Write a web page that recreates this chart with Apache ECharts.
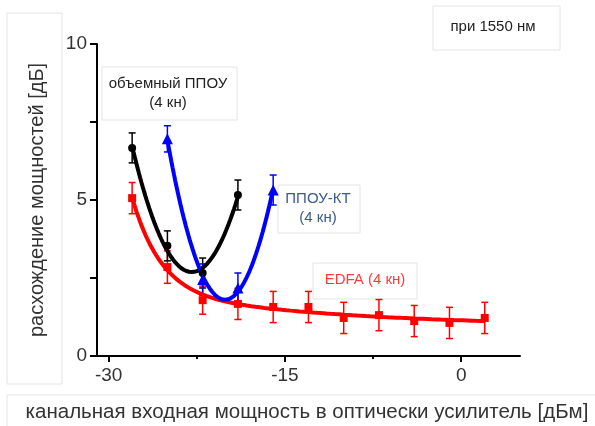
<!DOCTYPE html>
<html>
<head>
<meta charset="utf-8">
<script src="https://cdn.jsdelivr.net/npm/echarts@6/dist/echarts.min.js"></script>
<style>
html,body{margin:0;padding:0;background:#fff;}
#chart{width:595px;height:426px;}
</style>
</head>
<body>
<div id="chart"></div>
<script>
// данные при 1550 нм, входная мощность [дБм] -> расхождение [дБ]
var edfaX = [-28, -25, -22, -19, -16, -13, -10, -7, -4, -1, 2];
var edfaY = [5.06, 2.85, 1.79, 1.67, 1.57, 1.57, 1.22, 1.31, 1.12, 1.06, 1.22];
var edfaErr = [0.5, 0.52, 0.45, 0.5, 0.5, 0.5, 0.5, 0.5, 0.5, 0.5, 0.5];

var bulkX = [-28, -25, -22, -19];
var bulkY = [6.67, 3.53, 2.66, 5.16];
var bulkErr = [0.48, 0.48, 0.48, 0.48];

var ktX = [-25, -22, -19, -16];
var ktY = [6.96, 2.45, 2.18, 5.32];
var ktErr = [0.42, 0.5, 0.48, 0.48];

var xTickLabels = [-30, -15, 0];
var xMinorTicks = [-22.5, -7.5];
var yTickLabels = [0, 5, 10];
var yTicks = [0, 2.5, 5, 7.5, 10];

var FONT = 'Liberation Sans, Arial, sans-serif';

// метод наименьших квадратов для произвольного базиса
function lsqFit(xs, ys, basis) {
    var n = basis.length, A = [], b = [];
    for (var i = 0; i < n; i++) { A.push(new Array(n).fill(0)); b.push(0); }
    for (var k = 0; k < xs.length; k++) {
        var f = basis.map(function (g) { return g(xs[k]); });
        for (var i = 0; i < n; i++) {
            b[i] += f[i] * ys[k];
            for (var j = 0; j < n; j++) A[i][j] += f[i] * f[j];
        }
    }
    for (var c = 0; c < n; c++) {
        var p = c;
        for (var r = c + 1; r < n; r++) if (Math.abs(A[r][c]) > Math.abs(A[p][c])) p = r;
        var t = A[c]; A[c] = A[p]; A[p] = t; t = b[c]; b[c] = b[p]; b[p] = t;
        for (var r = c + 1; r < n; r++) {
            var m = A[r][c] / A[c][c];
            for (var j = c; j < n; j++) A[r][j] -= m * A[c][j];
            b[r] -= m * b[c];
        }
    }
    var w = new Array(n).fill(0);
    for (var i = n - 1; i >= 0; i--) {
        var s = b[i];
        for (var j = i + 1; j < n; j++) s -= A[i][j] * w[j];
        w[i] = s / A[i][i];
    }
    return function (x) {
        var y = 0;
        for (var i = 0; i < n; i++) y += w[i] * basis[i](x);
        return y;
    };
}

function curve(xs, fn) {
    var out = [], a = xs[0], z = xs[xs.length - 1];
    for (var i = 0; i <= 80; i++) {
        var x = a + (z - a) * i / 80;
        out.push([x, fn(x)]);
    }
    return out;
}

var quad = [function () { return 1; }, function (x) { return x; }, function (x) { return x * x; }];
var edfaBasis = [function () { return 1; }, function (x) { return Math.exp(-(x + 28) / 2.5); },
    function (x) { return x; }, function (x) { return x * x; }];

var edfaFit = curve(edfaX, lsqFit(edfaX, edfaY, edfaBasis));
var bulkFit = curve(bulkX, lsqFit(bulkX, bulkY, quad));
var ktFit = curve(ktX, lsqFit(ktX, ktY, quad));

function pts(xs, ys) { return xs.map(function (x, i) { return [x, ys[i]]; }); }
function errs(xs, ys, es) { return xs.map(function (x, i) { return [x, ys[i] - es[i], ys[i] + es[i]]; }); }

function errorBars(color) {
    return function (params, api) {
        var x = api.value(0);
        var top = api.coord([x, api.value(2)]);
        var bot = api.coord([x, api.value(1)]);
        var w = 3.5;
        var st = { stroke: color, lineWidth: 1.5 };
        return {
            type: 'group',
            children: [
                { type: 'line', shape: { x1: top[0], y1: top[1], x2: bot[0], y2: bot[1] }, style: st },
                { type: 'line', shape: { x1: top[0] - w, y1: top[1], x2: top[0] + w, y2: top[1] }, style: st },
                { type: 'line', shape: { x1: bot[0] - w, y1: bot[1], x2: bot[0] + w, y2: bot[1] }, style: st }
            ]
        };
    };
}

var RED = '#ff0000', BLACK = '#000000', BLUE = '#0000ff';

var myChart = echarts.init(document.getElementById('chart'));

var option = {
    animation: false,
    backgroundColor: '#fff',
    grid: { left: 91, right: 75, top: 44, bottom: 70 },
    xAxis: [{
        type: 'value', min: -31.5, max: 5,
        axisLine: { onZero: false, lineStyle: { color: '#000', width: 2 } },
        axisTick: { customValues: [-30, -15, 0], length: 6, lineStyle: { color: '#000', width: 2 } },
        axisLabel: { customValues: xTickLabels, fontSize: 19, color: '#333', fontFamily: FONT, margin: 10 },
        splitLine: { show: false }
    }, {
        type: 'value', min: -31.5, max: 5, position: 'bottom',
        axisLine: { show: false, onZero: false },
        axisTick: { customValues: xMinorTicks, length: 3, lineStyle: { color: '#000', width: 2 } },
        axisLabel: { show: false },
        splitLine: { show: false }
    }],
    yAxis: {
        type: 'value', min: 0, max: 10, offset: -6,
        axisLine: { show: true, onZero: false, lineStyle: { color: '#000', width: 2 } },
        axisTick: { show: true, customValues: yTicks, length: 7, lineStyle: { color: '#000', width: 2 } },
        axisLabel: { customValues: yTickLabels, fontSize: 19, color: '#333', fontFamily: FONT, margin: 10 },
        splitLine: { show: false }
    },
    series: [
        { type: 'custom', renderItem: errorBars(RED), data: errs(edfaX, edfaY, edfaErr), encode: { x: 0, y: [1, 2] }, z: 2 },
        { type: 'custom', renderItem: errorBars(BLACK), data: errs(bulkX, bulkY, bulkErr), encode: { x: 0, y: [1, 2] }, z: 2 },
        { type: 'custom', renderItem: errorBars(BLUE), data: errs(ktX, ktY, ktErr), encode: { x: 0, y: [1, 2] }, z: 2 },
        { type: 'line', data: edfaFit, showSymbol: false, lineStyle: { color: RED, width: 4 }, z: 3 },
        { type: 'line', data: bulkFit, showSymbol: false, lineStyle: { color: BLACK, width: 4 }, z: 3 },
        { type: 'line', data: ktFit, showSymbol: false, lineStyle: { color: BLUE, width: 4 }, z: 3 },
        { type: 'scatter', data: pts(edfaX, edfaY), symbol: 'rect', symbolSize: 8, itemStyle: { color: RED, opacity: 1 }, z: 4 },
        { type: 'scatter', data: pts(bulkX, bulkY), symbol: 'circle', symbolSize: 8, itemStyle: { color: BLACK, opacity: 1 }, z: 4 },
        { type: 'scatter', data: pts(ktX, ktY), symbol: 'triangle', symbolSize: 11, itemStyle: { color: BLUE, opacity: 1 }, z: 4 }
    ],
    graphic: [
        { type: 'rect', shape: { x: 7, y: 13, width: 55, height: 371 }, style: { fill: 'none', stroke: '#e4e4e4', lineWidth: 1 } },
        { type: 'text', x: 37, y: 200, rotation: Math.PI / 2,
          style: { text: 'расхождение мощностей [дБ]', font: '20px ' + FONT, fill: '#333', align: 'center', verticalAlign: 'middle', textAlign: 'center', textVerticalAlign: 'middle' } },
        { type: 'rect', shape: { x: 7, y: 395, width: 600, height: 40 }, style: { fill: 'none', stroke: '#e4e4e4', lineWidth: 1 } },
        { type: 'text', x: 307, y: 412,
          style: { text: 'канальная входная мощность в оптически усилитель [дБм]', font: '20.5px ' + FONT, fill: '#333', align: 'center', verticalAlign: 'middle', textAlign: 'center', textVerticalAlign: 'middle' } },
        { type: 'rect', shape: { x: 433, y: 6, width: 127, height: 44 }, style: { fill: '#fff', stroke: '#e4e4e4', lineWidth: 1 } },
        { type: 'text', x: 493, y: 27,
          style: { text: 'при 1550 нм', font: '15px ' + FONT, fill: '#222', align: 'center', verticalAlign: 'middle', textAlign: 'center', textVerticalAlign: 'middle' } },
        { type: 'rect', shape: { x: 102, y: 67, width: 135, height: 53 }, style: { fill: '#fff', stroke: '#e4e4e4', lineWidth: 1 } },
        { type: 'text', x: 168, y: 93,
          style: { text: 'объемный ППОУ\n(4 кн)', font: '15px ' + FONT, lineHeight: 19, fill: '#222', align: 'center', verticalAlign: 'middle', textAlign: 'center', textVerticalAlign: 'middle' } },
        { type: 'rect', shape: { x: 278, y: 185, width: 82, height: 48 }, style: { fill: '#fff', stroke: '#e4e4e4', lineWidth: 1 } },
        { type: 'text', x: 318, y: 208,
          style: { text: 'ППОУ-КТ\n(4 кн)', font: '15px ' + FONT, lineHeight: 19, fill: '#3c5a8c', align: 'center', verticalAlign: 'middle', textAlign: 'center', textVerticalAlign: 'middle' } },
        { type: 'rect', shape: { x: 313, y: 263, width: 104, height: 36 }, style: { fill: '#fff', stroke: '#e4e4e4', lineWidth: 1 } },
        { type: 'text', x: 365, y: 280,
          style: { text: 'EDFA (4 кн)', font: '15px ' + FONT, fill: '#ff3b3b', align: 'center', verticalAlign: 'middle', textAlign: 'center', textVerticalAlign: 'middle' } }
    ]
};

myChart.setOption(option);
</script>
</body>
</html>
